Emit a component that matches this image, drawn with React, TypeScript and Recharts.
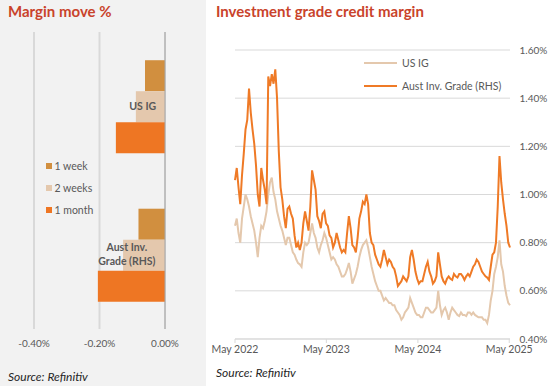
import React from "react";
import {
  BarChart, Bar, XAxis, YAxis, CartesianGrid, Legend,
  LineChart, Line,
} from "recharts";

// ---------- Left panel: Margin move % ----------
const categories = ["US IG", "Aust Inv.\nGrade (RHS)"];
const week1 = [-0.061, -0.081];
const weeks2 = [-0.089, -0.128];
const month1 = [-0.150, -0.205];
const barTicks = [-0.4, -0.2, 0];
const barSeriesOrder = ["1 week", "2 weeks", "1 month"];

// ---------- Right panel: Investment grade credit margin (weekly, from May 2022) ----------
const usIG = [
  0.87, 0.90, 0.84, 0.80, 0.90, 0.95, 1.00, 0.98, 0.95, 0.91,
  0.88, 0.85, 0.80, 0.74, 0.82, 0.87, 0.86, 0.89, 0.93, 1.00,
  1.05, 1.07, 1.01, 0.98, 0.93, 0.90, 0.87, 0.85, 0.82, 0.79,
  0.82, 0.82, 0.79, 0.76, 0.75, 0.73, 0.715, 0.71, 0.70, 0.76,
  0.80, 0.79, 0.80, 0.84, 0.88, 0.84, 0.82, 0.78, 0.76, 0.79,
  0.81, 0.84, 0.82, 0.79, 0.76, 0.73, 0.74, 0.73, 0.71, 0.70,
  0.68, 0.66, 0.66, 0.67, 0.69, 0.716, 0.68, 0.63, 0.65, 0.67,
  0.70, 0.74, 0.77, 0.79, 0.80, 0.81, 0.78, 0.74, 0.70, 0.67,
  0.64, 0.62, 0.60, 0.60, 0.58, 0.56, 0.57, 0.56, 0.55, 0.55,
  0.54, 0.54, 0.52, 0.51, 0.50, 0.48, 0.49, 0.51, 0.52, 0.53,
  0.57, 0.55, 0.53, 0.51, 0.50, 0.50, 0.49, 0.49, 0.51, 0.53,
  0.53, 0.52, 0.51, 0.51, 0.52, 0.53, 0.60, 0.54, 0.50, 0.52,
  0.53, 0.51, 0.48, 0.51, 0.53, 0.52, 0.51, 0.50, 0.495, 0.51,
  0.50, 0.50, 0.495, 0.51, 0.51, 0.50, 0.51, 0.50, 0.495, 0.49,
  0.49, 0.49, 0.48, 0.48, 0.466, 0.50, 0.56, 0.60, 0.67, 0.70,
  0.74, 0.81, 0.71, 0.68, 0.62, 0.58, 0.55, 0.54,
];
const austIG = [
  1.06, 1.11, 1.03, 0.96, 1.08, 1.17, 1.27, 1.31, 1.44, 1.34,
  1.27, 1.21, 1.12, 1.00, 0.95, 1.11, 1.06, 1.02, 0.96, 1.49,
  1.45, 1.50, 1.46, 1.52, 1.40, 1.18, 1.03, 0.98, 0.91, 0.86,
  0.94, 0.95, 0.92, 0.90, 0.83, 0.78, 0.80, 0.77, 0.80, 0.88,
  0.93, 0.89, 0.85, 0.95, 1.10, 1.06, 1.02, 0.91, 0.89, 0.86,
  0.92, 0.93, 0.88, 0.87, 0.83, 0.82, 0.78, 0.80, 0.84, 0.81,
  0.78, 0.76, 0.77, 0.76, 0.84, 0.91, 0.86, 0.79, 0.78, 0.76,
  0.82, 0.90, 0.93, 0.97, 0.96, 1.00, 0.96, 0.84, 0.80, 0.79,
  0.75, 0.73, 0.71, 0.70, 0.73, 0.77, 0.74, 0.71, 0.73, 0.72,
  0.70, 0.69, 0.66, 0.62, 0.63, 0.64, 0.66, 0.65, 0.64, 0.66,
  0.74, 0.77, 0.73, 0.68, 0.65, 0.63, 0.64, 0.64, 0.67, 0.70,
  0.72, 0.68, 0.66, 0.63, 0.64, 0.66, 0.76, 0.71, 0.66, 0.64,
  0.63, 0.65, 0.66, 0.65, 0.645, 0.67, 0.66, 0.655, 0.67, 0.67,
  0.66, 0.645, 0.66, 0.67, 0.66, 0.68, 0.70, 0.71, 0.73, 0.72,
  0.70, 0.68, 0.67, 0.66, 0.655, 0.645, 0.70, 0.75, 0.76, 0.80,
  0.95, 1.16, 1.05, 0.98, 0.92, 0.87, 0.80, 0.78,
];
const dateTicks = [0, 365, 731, 1096];
const dateTickLabels = ["May 2022", "May 2023", "May 2024", "May 2025"];
const pctTicks = [0.4, 0.6, 0.8, 1.0, 1.2, 1.4, 1.6];
const lineSeriesOrder = ["US IG", "Aust Inv. Grade (RHS)"];

const C_WEEK = "#d18f3f";
const C_2WEEK = "#e4c8ad";
const C_MONTH = "#ee7623";
const C_US = "#e4c8ad";
const C_AUST = "#ef7a26";
const GREY_TXT = "#595959";
const FONT = "Lato, 'Noto Sans', sans-serif";

const barData = categories.map((c, i) => ({
  name: c,
  w1: week1[i],
  w2: weeks2[i],
  m1: month1[i],
}));

const lineData = austIG.map((v, i) => ({ day: i * 7, aust: v, us: usIG[i] }));

const sortBy = (payload: any[], order: string[]) =>
  [...(payload || [])].sort((a, b) => order.indexOf(a.value) - order.indexOf(b.value));

const CatTick = (props: any) => {
  const { x, y, payload } = props;
  const lines: string[] = String(payload.value).split("\n");
  const maxLen = Math.max(...lines.map((l) => l.length));
  const cx = x - (maxLen * 5.3) / 2;
  const lh = 14;
  const start = y - ((lines.length - 1) * lh) / 2;
  return (
    <g>
      {lines.map((l, k) => (
        <text
          key={k}
          x={cx}
          y={start + k * lh}
          dy="0.35em"
          textAnchor="middle"
          fontFamily={FONT}
          fontWeight={700}
          fontSize={10.5}
          fill={GREY_TXT}
        >
          {l}
        </text>
      ))}
    </g>
  );
};

const BarLegend = (props: any) => {
  const items = sortBy(props.payload, barSeriesOrder);
  return (
    <div style={{ fontFamily: FONT, fontSize: 10.5, color: GREY_TXT }}>
      {items.map((p: any) => (
        <div key={p.value} style={{ height: 22, display: "flex", alignItems: "center" }}>
          <span style={{ width: 5.5, height: 5.5, background: p.color, display: "inline-block", marginRight: 3 }} />
          <span>{p.value}</span>
        </div>
      ))}
    </div>
  );
};

const LineLegend = (props: any) => {
  const items = sortBy(props.payload, lineSeriesOrder);
  return (
    <div style={{ fontFamily: FONT, fontSize: 10.5, color: GREY_TXT }}>
      {items.map((p: any) => (
        <div key={p.value} style={{ height: 23, display: "flex", alignItems: "center" }}>
          <span
            style={{
              width: 33,
              height: p.dataKey === "aust" ? 2.6 : 2,
              background: p.color,
              display: "inline-block",
              marginRight: 5,
            }}
          />
          <span>{p.value}</span>
        </div>
      ))}
    </div>
  );
};

export default function App() {
  return (
    <div style={{ position: "absolute", left: 0, top: 0, width: 551, height: 386, background: "#ffffff", overflow: "hidden" }}>
      <svg width={551} height={386} style={{ position: "absolute", left: 0, top: 0 }}>
        <rect x={0} y={0} width={206} height={386} fill="#f2f2f2" />
        <rect x={206} y={0} width={345} height={386} fill="#ffffff" />
        <text x={8} y={17} fontFamily={FONT} fontWeight={700} fontSize={15} fill="#c9432b">
          Margin move %
        </text>
        <text x={216} y={17} fontFamily={FONT} fontWeight={700} fontSize={15} fill="#c9432b">
          Investment grade credit margin
        </text>
        <text x={8} y={381} fontFamily={FONT} fontStyle="italic" fontSize={12} fill="#262626">
          Source: Refinitiv
        </text>
        <text x={216} y={377} fontFamily={FONT} fontStyle="italic" fontSize={12} fill="#262626">
          Source: Refinitiv
        </text>
      </svg>

      <div style={{ position: "absolute", left: 0, top: 0 }}>
        <BarChart
          width={206}
          height={386}
          data={barData}
          layout="vertical"
          margin={{ top: 32, left: 34, right: 41, bottom: 27 }}
          barCategoryGap="19%"
          barGap={0}
        >
          <CartesianGrid horizontal={false} stroke="#d9d9d9" strokeWidth={2} />
          <XAxis
            type="number"
            domain={[-0.4, 0]}
            ticks={barTicks}
            tickFormatter={(v: number) => `${v.toFixed(2)}%`}
            axisLine={false}
            tickLine={false}
            tickMargin={5}
            height={30}
            tick={{ fontFamily: FONT, fontSize: 10, fill: GREY_TXT }}
          />
          <YAxis
            type="category"
            dataKey="name"
            orientation="right"
            mirror
            axisLine={{ stroke: "#a6a6a6", strokeWidth: 1 }}
            tickLine={false}
            tickSize={7}
            tickMargin={2}
            tick={<CatTick />}
          />
          <Legend
            layout="vertical"
            align="center"
            verticalAlign="middle"
            content={<BarLegend />}
            wrapperStyle={{ left: 46, top: 155, width: 80, height: 66 }}
          />
          <Bar dataKey="w1" name="1 week" fill={C_WEEK} isAnimationActive={false} />
          <Bar dataKey="w2" name="2 weeks" fill={C_2WEEK} isAnimationActive={false} />
          <Bar dataKey="m1" name="1 month" fill={C_MONTH} isAnimationActive={false} />
        </BarChart>
      </div>

      <div style={{ position: "absolute", left: 206, top: 0 }}>
        <LineChart
          width={345}
          height={386}
          data={lineData}
          margin={{ top: 50, left: 29, right: 0, bottom: 17 }}
        >
          <CartesianGrid vertical={false} stroke="#d9d9d9" strokeWidth={1} />
          <XAxis
            type="number"
            dataKey="day"
            domain={[0, 1099]}
            ticks={dateTicks}
            tickFormatter={(v: number) => dateTickLabels[dateTicks.indexOf(v)] ?? ""}
            axisLine={{ stroke: "#d9d9d9" }}
            tickLine={{ stroke: "#d9d9d9" }}
            tickSize={4}
            tickMargin={3}
            height={30}
            interval={0}
            tick={{ fontFamily: FONT, fontSize: 10.5, fill: GREY_TXT }}
          />
          <YAxis
            orientation="right"
            domain={[0.4, 1.6]}
            ticks={pctTicks}
            tickFormatter={(v: number) => `${v.toFixed(2)}%`}
            axisLine={false}
            tickLine={false}
            tickSize={7}
            tickMargin={2.5}
            width={41}
            interval={0}
            tick={{ fontFamily: FONT, fontSize: 10, fill: GREY_TXT, textAnchor: "start" }}
          />
          <Legend
            layout="vertical"
            align="center"
            verticalAlign="middle"
            content={<LineLegend />}
            wrapperStyle={{ left: 158, top: 51.5, width: 160, height: 46 }}
          />
          <Line
            type="linear"
            dataKey="us"
            name="US IG"
            stroke={C_US}
            strokeWidth={2}
            dot={false}
            isAnimationActive={false}
          />
          <Line
            type="linear"
            dataKey="aust"
            name="Aust Inv. Grade (RHS)"
            stroke={C_AUST}
            strokeWidth={2}
            dot={false}
            isAnimationActive={false}
          />
        </LineChart>
      </div>
    </div>
  );
}
